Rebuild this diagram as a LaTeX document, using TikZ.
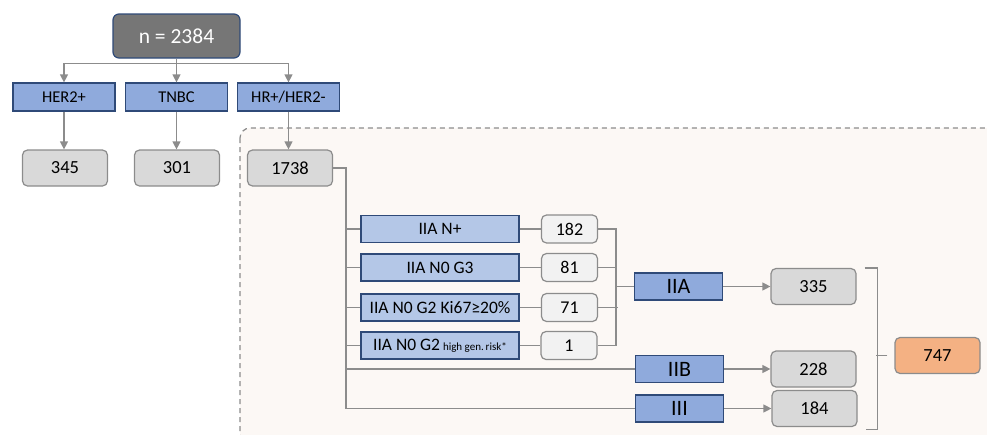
\documentclass[tikz,border=0pt]{standalone}
\usepackage{fontspec}
\setmainfont{Carlito}
\usetikzlibrary{arrows.meta}
\definecolor{navy}{HTML}{2F4A78}
\definecolor{boxdark}{HTML}{767676}
\definecolor{boxblue}{HTML}{8FAADC}
\definecolor{boxlight}{HTML}{B4C7E7}
\definecolor{boxgray}{HTML}{D9D9D9}
\definecolor{boxpale}{HTML}{F2F2F2}
\definecolor{boxorange}{HTML}{F4B183}
\definecolor{linegray}{HTML}{8C8C8C}
\definecolor{regionfill}{HTML}{FCF8F5}

\begin{document}
\begin{tikzpicture}[x=1pt,y=-1pt,line width=1.2pt,
  total/.style = {draw=navy, fill=boxdark, text=white, rounded corners=6pt, minimum width=127pt, minimum height=44pt, font=\fontsize{21.5}{24}\selectfont},
  group/.style = {draw=navy, fill=boxblue, minimum width=102pt, minimum height=28pt, font=\fontsize{16.5}{18}\selectfont},
  count/.style = {draw=linegray, fill=boxgray, rounded corners=5pt, minimum width=85pt, minimum height=36pt, font=\fontsize{18.5}{20}\selectfont},
  sub/.style = {draw=navy, fill=boxlight, minimum width=158pt, minimum height=27pt, font=\fontsize{17.5}{19}\selectfont},
  subcount/.style = {draw=linegray, fill=boxpale, rounded corners=5pt, minimum width=56pt, minimum height=28pt, font=\fontsize{18}{20}\selectfont},
  stage/.style = {draw=navy, fill=boxblue, minimum width=88pt, minimum height=27pt, font=\fontsize{22}{24}\selectfont},
  conn/.style = {draw=linegray, line width=1.2pt},
  arr/.style = {conn, -{Triangle[length=8pt,width=8pt]}}]
\useasboundingbox (0,0) rectangle (987,434);

% dashed region
\draw[draw=linegray, fill=regionfill, dashed, dash pattern=on 5pt off 4pt, rounded corners=10pt] (240,128) rectangle (1000,445);

% top level
\node[total] (n) at (176.5,36) {n = 2384};
\node[group] (her) at (64,97) {HER2+};
\node[group] (tnbc) at (176.5,97) {TNBC};
\node[group] (hr) at (288.5,97) {HR+/HER2-};
\node[count] (c345) at (65,168) {345};
\node[count] (c301) at (177,168) {301};
\node[count] (c1738) at (290,168) {1738};

\draw[conn] (n.south) -- ++(0,5) coordinate (split);
\draw[arr] (split) -| (her.north);
\draw[arr] (split) -- (tnbc.north);
\draw[arr] (split) -| (hr.north);
\draw[arr] (her.south) -- (her.south |- c345.north);
\draw[arr] (tnbc.south) -- (tnbc.south |- c301.north);
\draw[arr] (hr.south) -- (hr.south |- c1738.north);

% IIA subgroups
\node[sub] (s1) at (440,229) {IIA N+};
\node[sub] (s2) at (440,267.5) {IIA N0 G3};
\node[sub] (s3) at (440,307.5) {IIA N0 G2 Ki67≥20\%};
\node[sub] (s4) at (440,345.5) {IIA N0 G2\,{\fontsize{11}{12}\selectfont high gen.\,risk*}};
\node[subcount] (k1) at (569.5,229) {182};
\node[subcount] (k2) at (569.5,267.5) {81};
\node[subcount] (k3) at (569.5,307.5) {71};
\node[subcount] (k4) at (569,345.5) {1};

% stages
\node[stage] (iia) at (678.5,286.5) {IIA};
\node[stage] (iib) at (679.5,369) {IIB};
\node[stage] (iii) at (679.5,408.5) {III};
\node[count] (r335) at (813.5,286.5) {335};
\node[count] (r228) at (813.5,369) {228};
\node[count] (r184) at (814.5,408.5) {184};
\node[count, fill=boxorange] (r747) at (937.5,355.5) {747};

% trunk from 1738
\coordinate (trunk) at (346,168);
\draw[conn] (c1738.east) -- (trunk) |- (iii.west);
\foreach \s in {s1,s2,s3,s4,iib}
  \draw[conn] (trunk |- \s.west) -- (\s.west);
\foreach \i in {1,2,3,4}
  \draw[conn] (s\i.east) -- (k\i.west);

% join into IIA
\coordinate (join) at (616,0);
\draw[conn] (k1.east) -- (k1.east -| join) -- (k4.east -| join) -- (k4.east);
\draw[conn] (k2.east) -- (k2.east -| join);
\draw[conn] (k3.east) -- ([xshift=2pt]k3.east -| join);
\draw[conn] (join |- iia.west) -- (iia.west);

\draw[arr] (iia.east) -- (r335.west);
\draw[arr] (iib.east) -- (r228.west);
\draw[arr] (iii.east) -- (r184.west);

% bracket to total
\draw[conn] ([xshift=8pt]r335.north east) -| ([xshift=20pt,yshift=-2pt]r184.south east) -- ([xshift=8pt,yshift=-2pt]r184.south east);
\draw[conn] (r747.west) ++(-7,0) coordinate (tick) -- ++(-11,0);
\end{tikzpicture}
\end{document}
